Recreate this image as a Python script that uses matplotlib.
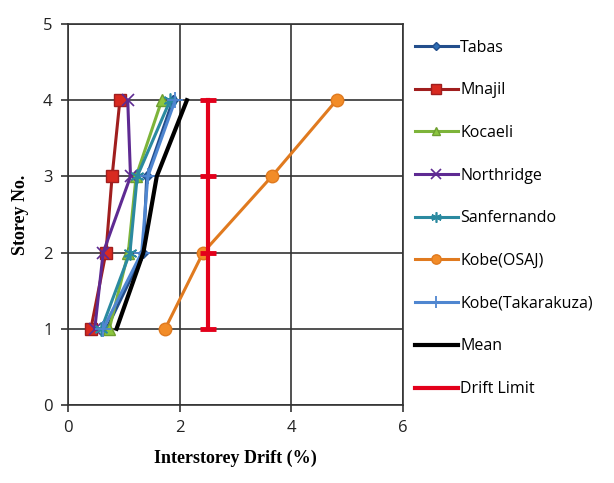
import matplotlib
matplotlib.use("Agg")
import matplotlib.pyplot as plt

storeys = [1, 2, 3, 4]
tabas = [0.69, 1.35, 1.41, 1.88]
mnajil = [0.41, 0.68, 0.79, 0.93]
kocaeli = [0.74, 1.08, 1.22, 1.68]
northridge = [0.48, 0.63, 1.12, 1.07]
sanfernando = [0.60, 1.11, 1.24, 1.83]
kobe_osaj = [1.74, 2.42, 3.65, 4.81]
kobe_taka = [0.63, 1.32, 1.43, 1.92]
mean = [0.87, 1.35, 1.59, 2.13]
drift_limit = [2.5, 2.5, 2.5, 2.5]

x_ticks = [0, 2, 4, 6]
y_ticks = [0, 1, 2, 3, 4, 5]

fig = plt.figure(figsize=(6.14, 4.83), dpi=100)
ax = fig.add_axes([0.1107, 0.1615, 0.5457, 0.7888])

lw = 2.2
series = [
    ("Tabas", tabas, dict(color="#234E8C", marker="D", ms=5, mfc="#2E6DB4", mec="#234E8C")),
    ("Mnajil", mnajil, dict(color="#A01E1E", marker="s", ms=9, mfc="#D82A20", mec="#A01E1E")),
    ("Kocaeli", kocaeli, dict(color="#7DB43A", marker="^", ms=8, mfc="#8CC63F", mec="#6E9E30")),
    ("Northridge", northridge, dict(color="#5E2A92", marker="x", ms=9, mew=1.2)),
    ("Sanfernando", sanfernando, dict(color="#2B8AA0", marker=(6, 2, 0), ms=10, mew=1.2)),
    ("Kobe(OSAJ)", kobe_osaj, dict(color="#E07A1F", marker="o", ms=9, mfc="#F28C28", mec="#E07A1F")),
    ("Kobe(Takarakuza)", kobe_taka, dict(color="#4F86D0", marker="+", ms=11, mew=1.3)),
    ("Mean", mean, dict(color="black", marker=None, lw=3)),
    ("Drift Limit", drift_limit, dict(color="#E3001B", marker="_", ms=11, mew=3.5, lw=3)),
]

for name, xs, st in series:
    st = dict(st)
    l = st.pop("lw", lw)
    ax.plot(xs, storeys, label=name, lw=l, **st)

ax.set_xlim(0, 6)
ax.set_ylim(0, 5)
ax.set_xticks(x_ticks)
ax.set_yticks(y_ticks)
ax.grid(True, color="#333333", lw=1.2)
ax.set_axisbelow(True)
for s in ax.spines.values():
    s.set_color("#333333")
    s.set_linewidth(1.2)
ax.tick_params(direction="out", length=5, width=1.2, color="#333333",
               labelsize=12, pad=6)
for lab in ax.get_xticklabels() + ax.get_yticklabels():
    lab.set_fontfamily("Open Sans")
    lab.set_color("#222222")

ax.set_xlabel("Interstorey Drift (%)", fontfamily="Liberation Serif",
              fontweight="bold", fontsize=13, labelpad=10)
ax.set_ylabel("Storey No.", fontfamily="Liberation Serif",
              fontweight="bold", fontsize=13, labelpad=10)

leg = fig.legend(loc="upper left", bbox_to_anchor=(0.665, 0.931),
                 frameon=False, handlelength=2.7, handletextpad=0.15,
                 labelspacing=1.67, markerscale=0.75,
                 prop={"family": "Open Sans", "size": 11.5},
                 borderaxespad=0)
leg.legend_handles[-1].set_marker("None")

fig.savefig("out.png", dpi=100)
